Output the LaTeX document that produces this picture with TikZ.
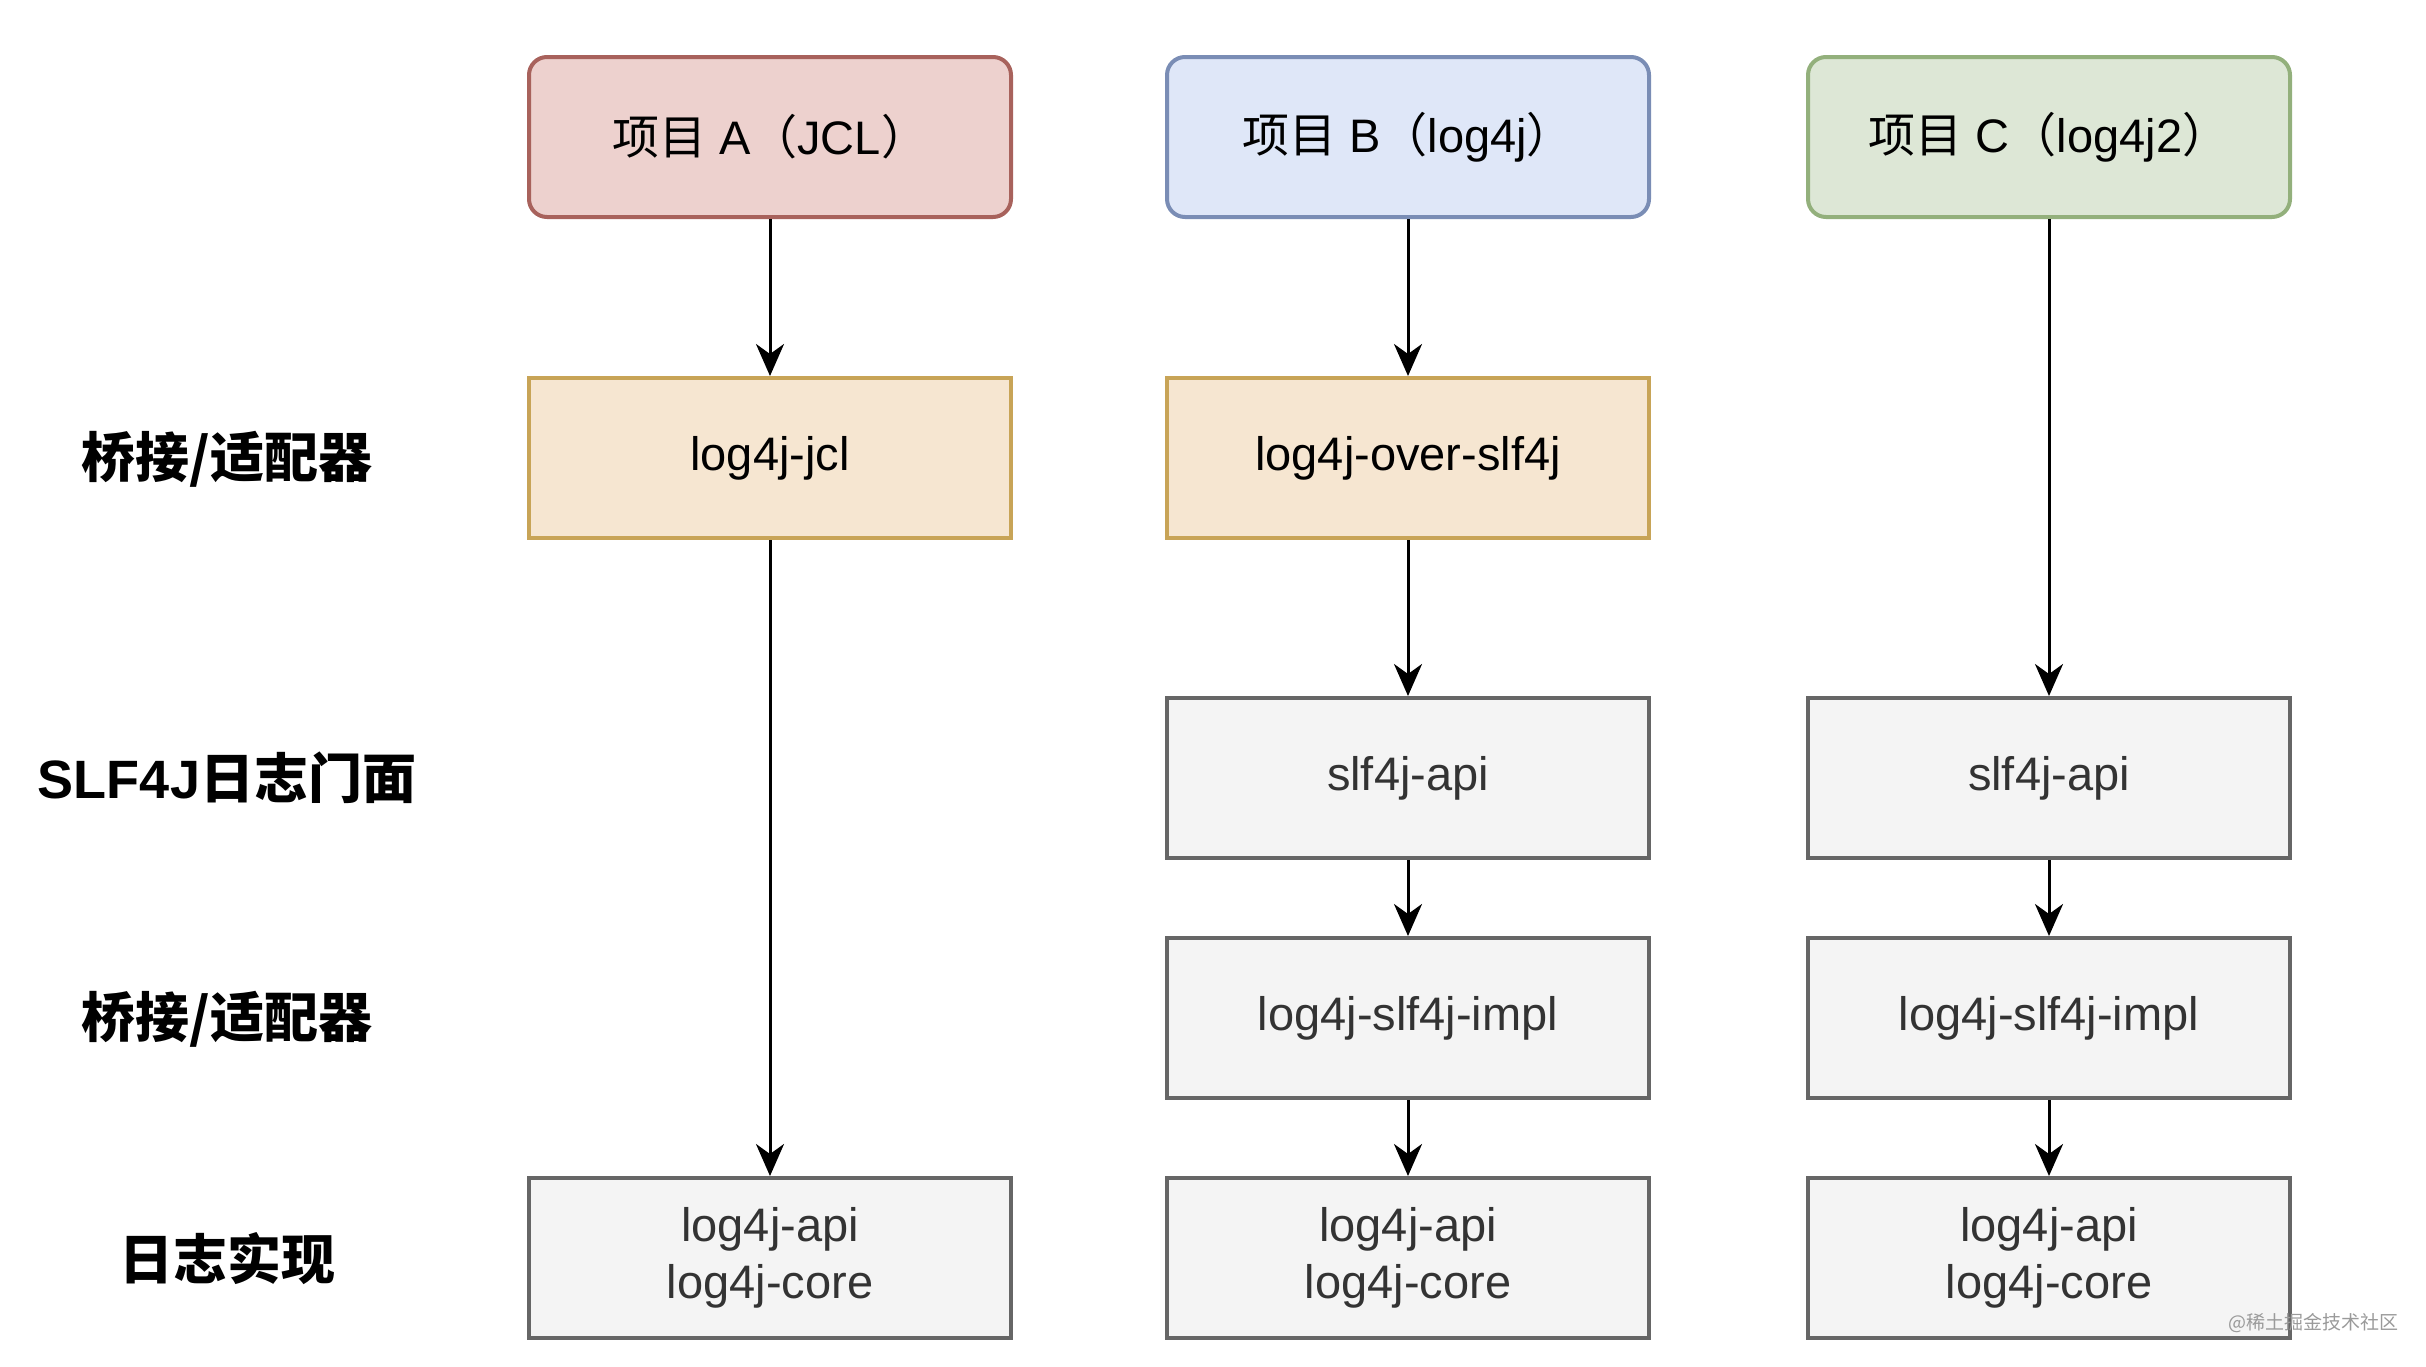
\documentclass[tikz,border=0pt]{standalone}
\usepackage{fontspec}
\setmainfont{Liberation Sans}
\newfontfamily\cjk{Noto Sans CJK SC}
\usetikzlibrary{arrows.meta}
\definecolor{redfill}{HTML}{EDD1CE}
\definecolor{reddraw}{HTML}{A8625C}
\definecolor{bluefill}{HTML}{DFE7F8}
\definecolor{bluedraw}{HTML}{7A8DB5}
\definecolor{greenfill}{HTML}{DDE7D6}
\definecolor{greendraw}{HTML}{93B07C}
\definecolor{brfill}{HTML}{F6E6D1}
\definecolor{brdraw}{HTML}{C8A457}
\definecolor{grfill}{HTML}{F4F4F4}
\definecolor{grdraw}{HTML}{666666}
\definecolor{grtext}{HTML}{333333}
\definecolor{wmtext}{HTML}{9A9A9A}
\begin{document}
\begin{tikzpicture}[x=1pt,y=-1pt,
  box/.style={draw, line width=4pt, minimum width=482pt, minimum height=160pt,
    inner sep=0pt, align=center, font=\fontsize{47}{57}\selectfont},
  projA/.style={box, rounded corners=18pt, fill=redfill, draw=reddraw},
  projB/.style={box, rounded corners=18pt, fill=bluefill, draw=bluedraw},
  projC/.style={box, rounded corners=18pt, fill=greenfill, draw=greendraw},
  bridgebox/.style={box, fill=brfill, draw=brdraw},
  graybox/.style={box, fill=grfill, draw=grdraw, text=grtext},
  lbl/.style={font=\bfseries\fontsize{54}{64}\selectfont},
  conn/.style={line width=3pt, -{Stealth[length=32pt,width=28pt,inset=10pt]}},
  wm/.style={text=wmtext, font=\cjk\fontsize{19}{22}\selectfont}
]
\useasboundingbox (0,0) rectangle (2426,1366);

% row labels
\node[lbl] (l1) at (227,459) {\cjk 桥接/适配器};
\node[lbl] (l2) at (227,778) {SLF4J{\cjk 日志门面}};
\node[lbl] (l3) at (227,1019) {\cjk 桥接/适配器};
\node[lbl] (l4) at (227,1259) {\cjk 日志实现};

% column A
\node[projA] (pa) at (770,137) {{\cjk 项目} A{\cjk （}JCL{\cjk ）}};
\node[bridgebox] (ba) at (770,458) {log4j-jcl};
\node[graybox] (ca) at (770,1258) {log4j-api\\log4j-core};

% column B
\node[projB] (pb) at (1408,137) {{\cjk 项目} B{\cjk （}log4j{\cjk ）}};
\node[bridgebox] (bb) at (1408,458) {log4j-over-slf4j};
\node[graybox] (sb) at (1408,778) {slf4j-api};
\node[graybox] (ib) at (1408,1018) {log4j-slf4j-impl};
\node[graybox] (cb) at (1408,1258) {log4j-api\\log4j-core};

% column C
\node[projC] (pc) at (2049,137) {{\cjk 项目} C{\cjk （}log4j2{\cjk ）}};
\node[graybox] (sc) at (2049,778) {slf4j-api};
\node[graybox] (ic) at (2049,1018) {log4j-slf4j-impl};
\node[graybox] (cc) at (2049,1258) {log4j-api\\log4j-core};

% connectors
\draw[conn] (pa) -- (ba);
\draw[conn] (ba) -- (ca);
\draw[conn] (pb) -- (bb);
\draw[conn] (bb) -- (sb);
\draw[conn] (sb) -- (ib);
\draw[conn] (ib) -- (cb);
\draw[conn] (pc) -- (sc);
\draw[conn] (sc) -- (ic);
\draw[conn] (ic) -- (cc);

% watermark
\node[wm] (wmark) at (2313,1323) {@稀土掘金技术社区};
\end{tikzpicture}
\end{document}
